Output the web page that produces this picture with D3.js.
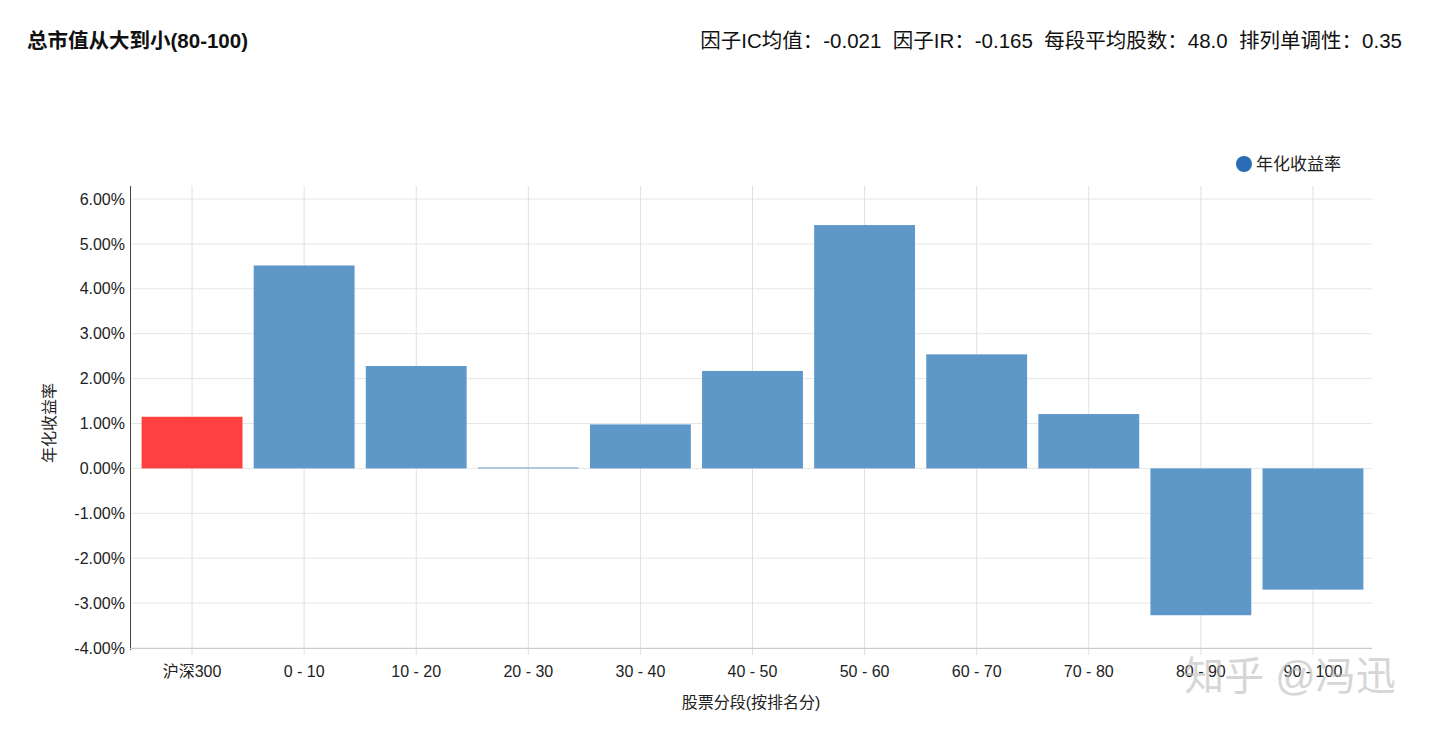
<!DOCTYPE html><html><head><meta charset="utf-8"><script src="https://cdn.jsdelivr.net/npm/d3@7"></script>
<style>body{margin:0;background:#fff;font-family:"Liberation Sans","Noto Sans CJK SC",sans-serif}</style></head><body>
<svg id="c" width="1440" height="733"></svg>
<script>
const categories=["沪深300","0 - 10","10 - 20","20 - 30","30 - 40","40 - 50","50 - 60","60 - 70","70 - 80","80 - 90","90 - 100"];
const values=[1.15,4.52,2.28,0.02,0.98,2.17,5.42,2.54,1.21,-3.27,-2.70];
const yTicks=[-4,-3,-2,-1,0,1,2,3,4,5,6];
const svg=d3.select("#c");
const x=d3.scaleBand().domain(categories).range([136,1369]).paddingInner(0.1).paddingOuter(0.05);
const y=d3.scaleLinear().domain([-4,6]).range([648,199]);
const plotTop=186;
svg.append("g").selectAll("line").data(yTicks).join("line").attr("x1",130).attr("x2",1372)
 .attr("y1",d=>y(d)).attr("y2",d=>y(d)).attr("stroke","#e6e6e6");
svg.append("g").selectAll("line").data(categories).join("line").attr("y1",plotTop).attr("y2",655)
 .attr("x1",d=>x(d)+x.bandwidth()/2).attr("x2",d=>x(d)+x.bandwidth()/2).attr("stroke","#e0e0e0");
svg.append("g").selectAll("rect").data(values).join("rect")
 .attr("x",(d,i)=>x(categories[i])).attr("width",x.bandwidth())
 .attr("y",d=>y(Math.max(0,d))).attr("height",d=>Math.abs(y(d)-y(0)))
 .attr("fill",(d,i)=>i===0?"#ff4040":"#5e98c9");
const ya=svg.append("g").attr("transform","translate(130,0)").call(d3.axisLeft(y).tickValues(yTicks).tickFormat(d=>d.toFixed(2)+"%").tickSize(0).tickPadding(5));
ya.select(".domain").remove();
ya.selectAll("text").attr("font-size",16).attr("fill","#222").attr("font-family","Liberation Sans,Arial,sans-serif");
svg.append("line").attr("x1",130.5).attr("x2",130.5).attr("y1",plotTop).attr("y2",650).attr("stroke","#444");
svg.append("line").attr("x1",130).attr("x2",1372).attr("y1",648.5).attr("y2",648.5).attr("stroke","#ccc");
svg.append("g").selectAll("text").data(categories).join("text").attr("x",d=>x(d)+x.bandwidth()/2).attr("y",677)
 .attr("text-anchor","middle").attr("font-size",16).attr("fill","#222").text(d=>d);
svg.append("text").attr("x",751).attr("y",708).attr("text-anchor","middle").attr("font-size",16).attr("fill","#222").text("股票分段(按排名分)");
svg.append("text").attr("transform","translate(55,423) rotate(-90)").attr("text-anchor","middle").attr("font-size",16).attr("fill","#222").text("年化收益率");
svg.append("text").attr("x",27).attr("y",48).attr("font-size",20.5).attr("font-weight","bold").attr("fill","#111").text("总市值从大到小(80-100)");
svg.append("text").attr("x",1402).attr("y",48).attr("text-anchor","end").attr("font-size",20.5).attr("fill","#111").style("white-space","pre").text("因子IC均值：-0.021  因子IR：-0.165  每段平均股数：48.0  排列单调性：0.35");
svg.append("circle").attr("cx",1244).attr("cy",164).attr("r",8).attr("fill","#2a6db5");
svg.append("text").attr("x",1256).attr("y",170).attr("font-size",17).attr("fill","#222").text("年化收益率");
svg.append("text").attr("x",1290).attr("y",690).attr("text-anchor","middle").attr("font-size",40).attr("fill","#bbb").attr("opacity",0.6).text("知乎 @冯迅");
</script></body></html>
